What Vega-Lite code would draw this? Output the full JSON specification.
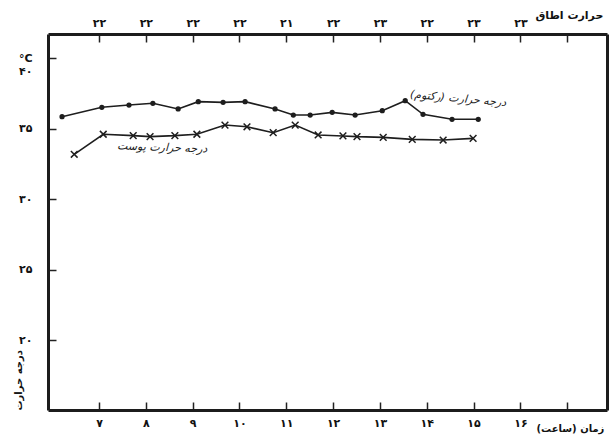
{
  "$schema": "https://vega.github.io/schema/vega-lite/v6.json",
  "width": 559,
  "height": 376,
  "autosize": {"type": "none"},
  "padding": {"left": 48, "top": 34, "right": 6, "bottom": 31},
  "background": "white",
  "config": {
    "view": {"stroke": null},
    "font": "DejaVu Sans"
  },
  "datasets": {
    "temps": [
      {"series": "rectal", "hour": 6.21, "temp": 35.84},
      {"series": "rectal", "hour": 7.06, "temp": 36.51},
      {"series": "rectal", "hour": 7.64, "temp": 36.67},
      {"series": "rectal", "hour": 8.15, "temp": 36.79},
      {"series": "rectal", "hour": 8.69, "temp": 36.39},
      {"series": "rectal", "hour": 9.12, "temp": 36.91},
      {"series": "rectal", "hour": 9.65, "temp": 36.86},
      {"series": "rectal", "hour": 10.12, "temp": 36.91},
      {"series": "rectal", "hour": 10.76, "temp": 36.39},
      {"series": "rectal", "hour": 11.15, "temp": 35.96},
      {"series": "rectal", "hour": 11.51, "temp": 35.96},
      {"series": "rectal", "hour": 11.98, "temp": 36.15},
      {"series": "rectal", "hour": 12.47, "temp": 35.96},
      {"series": "rectal", "hour": 13.05, "temp": 36.27},
      {"series": "rectal", "hour": 13.54, "temp": 36.98},
      {"series": "rectal", "hour": 13.92, "temp": 36.01},
      {"series": "rectal", "hour": 14.54, "temp": 35.66},
      {"series": "rectal", "hour": 15.10, "temp": 35.66},
      {"series": "skin", "hour": 6.47, "temp": 33.18},
      {"series": "skin", "hour": 7.09, "temp": 34.60},
      {"series": "skin", "hour": 7.73, "temp": 34.50},
      {"series": "skin", "hour": 8.09, "temp": 34.43},
      {"series": "skin", "hour": 8.62, "temp": 34.50},
      {"series": "skin", "hour": 9.09, "temp": 34.60},
      {"series": "skin", "hour": 9.69, "temp": 35.25},
      {"series": "skin", "hour": 10.16, "temp": 35.13},
      {"series": "skin", "hour": 10.72, "temp": 34.71},
      {"series": "skin", "hour": 11.19, "temp": 35.25},
      {"series": "skin", "hour": 11.68, "temp": 34.55},
      {"series": "skin", "hour": 12.21, "temp": 34.48},
      {"series": "skin", "hour": 12.51, "temp": 34.43},
      {"series": "skin", "hour": 13.07, "temp": 34.38},
      {"series": "skin", "hour": 13.69, "temp": 34.24},
      {"series": "skin", "hour": 14.35, "temp": 34.19},
      {"series": "skin", "hour": 14.99, "temp": 34.31}
    ],
    "notes": [
      {"hour": 14.67, "temp": 37.1, "label": "درجه حرارت (رکتوم)‏", "tilt": "rectal"},
      {"hour": 8.35, "temp": 33.63, "label": "درجه حرارت پوست", "tilt": "skin"}
    ],
    "tempTicks": [
      {"temp": 20}, {"temp": 25}, {"temp": 30}, {"temp": 35}, {"temp": 40}
    ]
  },
  "layer": [
    {
      "data": {"name": "temps"},
      "mark": {"type": "line", "color": "#1e1e1e", "strokeWidth": 1.6},
      "encoding": {
        "x": {
          "field": "hour", "type": "quantitative",
          "scale": {"domain": [5.91, 17.85], "nice": false, "zero": false},
          "axis": {
            "orient": "bottom",
            "grid": false, "domain": true, "domainColor": "#1c1c1c", "domainWidth": 3,
            "ticks": true, "tickSize": -8, "tickColor": "#222", "tickWidth": 1.5,
            "labelColor": "#111", "labelFontSize": 11, "labelFontWeight": "bold",
            "values": [7, 8, 9, 10, 11, 12, 13, 14, 15, 16, 17],
            "labelExpr": "['۷','۸','۹','۱۰','۱۱','۱۲','۱۳','۱۴','۱۵','۱۶',''][datum.value-7]",
            "labelPadding": 15,
            "title": "زمان (ساعت)‏",
            "titleFontSize": 10, "titleFontWeight": "bold", "titleColor": "#111",
            "titleAnchor": "start",
            "titleAlign": "left",
            "titleBaseline": "middle",
            "titleX": 488,
            "titleY": 18
          }
        },
        "y": {
          "field": "temp", "type": "quantitative",
          "scale": {"domain": [15.07, 41.7], "nice": false, "zero": false},
          "axis": {
            "orient": "left",
            "grid": false, "domain": true, "domainColor": "#1c1c1c", "domainWidth": 3,
            "ticks": true, "tickSize": -8, "tickColor": "#222", "tickWidth": 1.5,
            "labelColor": "#111", "labelFontSize": 11, "labelFontWeight": "bold",
            "values": [20, 25, 30, 35, 40],
            "labelExpr": "datum.value==40 ? ['°C','۴۰'] : ['۲۰','۲۵','۳۰','۳۵'][(datum.value-20)/5]",
            "labelPadding": 24,
            "title": "درجه حرارت",
            "titleFontSize": 10, "titleFontWeight": "bold", "titleColor": "#111",
            "titleAnchor": "start",
            "titleX": -30,
            "titleBaseline": "middle"
          }
        },
        "detail": {"field": "series"}
      }
    },
    {
      "data": {"name": "temps"},
      "mark": {"type": "point", "filled": true, "color": "#1e1e1e", "stroke": "#1e1e1e", "strokeWidth": 1.5, "opacity": 1},
      "encoding": {
        "x": {"field": "hour", "type": "quantitative", "axis": null},
        "y": {"field": "temp", "type": "quantitative", "axis": null},
        "shape": {"field": "series", "type": "nominal", "scale": {"domain": ["rectal", "skin"], "range": ["circle", "M-1,-1L1,1M-1,1L1,-1"]}, "legend": null},
        "size": {"field": "series", "type": "ordinal", "scale": {"domain": ["rectal", "skin"], "range": [14, 45]}, "legend": null}
      }
    },
    {
      "data": {"name": "tempTicks"},
      "mark": {"type": "point", "opacity": 0},
      "encoding": {
        "x": {"datum": 17.85, "type": "quantitative", "axis": null},
        "y": {
          "field": "temp", "type": "quantitative",
          "axis": {"orient": "right", "grid": false, "domain": true, "domainColor": "#1c1c1c", "domainWidth": 3, "ticks": false, "labels": false, "title": null}
        }
      }
    },
    {
      "data": {"name": "notes"},
      "mark": {"type": "text", "fontSize": 11, "color": "#222", "fontStyle": "italic"},
      "encoding": {
        "x": {
          "field": "hour", "type": "quantitative",
          "axis": {
            "orient": "top",
            "grid": false, "domain": true, "domainColor": "#1c1c1c", "domainWidth": 3,
            "ticks": true, "tickSize": -8, "tickColor": "#222", "tickWidth": 1.5,
            "labelColor": "#111", "labelFontSize": 11, "labelFontWeight": "bold",
            "values": [7, 8, 9, 10, 11, 12, 13, 14, 15, 16, 17],
            "labelExpr": "['۲۲','۲۲','۲۲','۲۲','۲۱','۲۲','۲۳','۲۲','۲۳','۲۳',''][datum.value-7]",
            "labelPadding": 14,
            "title": "حرارت اطاق",
            "titleFontSize": 11, "titleFontWeight": "bold", "titleColor": "#111",
            "titleAnchor": "start",
            "titleAlign": "left",
            "titleBaseline": "middle",
            "titleX": 487,
            "titleY": -19
          }
        },
        "y": {"field": "temp", "type": "quantitative", "axis": null},
        "text": {"field": "label"},
        "angle": {"field": "tilt", "type": "nominal", "scale": {"domain": ["rectal", "skin"], "range": [5, 2]}, "legend": null}
      }
    }
  ],
  "resolve": {"axis": {"x": "independent", "y": "independent"}}
}
